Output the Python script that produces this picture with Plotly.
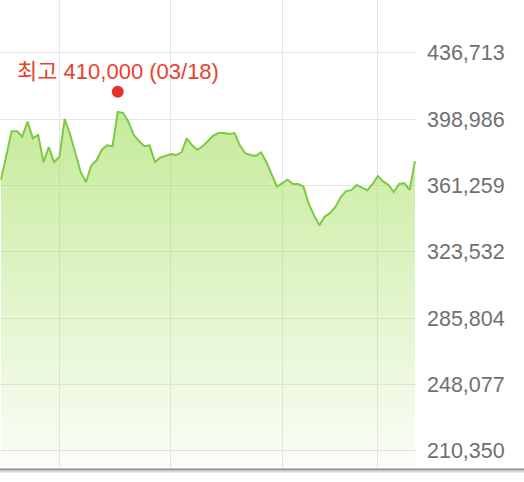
import pandas as pd
import plotly.graph_objects as go

# trading days (KRX calendar, Feb-Jun 2022)
holidays = ["2022-03-01", "2022-03-09", "2022-05-05", "2022-06-01"]
days = pd.bdate_range("2022-02-14", periods=79, freq="C", holidays=holidays)
dates = [d.strftime("%m/%d") for d in days]

# closing prices
closes = [
    364500, 378500, 392000, 392000, 389000, 397500, 388000, 390000, 374500, 383000,
    374500, 377500, 399000, 390500, 380000, 369000, 363000, 372500, 375500, 381500,
    384000, 383500, 403000, 402500, 397500, 390000, 386500, 383500, 384000, 374500,
    377000, 378000, 379000, 378500, 380000, 388000, 384000, 381500, 383500, 386500,
    389500, 391000, 391000, 390500, 391000, 384000, 379500, 378500, 378000, 380000,
    374500, 367500, 360500, 362500, 364500, 362000, 362000, 360500, 350500, 344000,
    338500, 343500, 345500, 349000, 354500, 358000, 358500, 361500, 360000, 358500,
    362000, 366500, 363500, 361500, 357500, 362000, 362500, 358500, 375000,
]

high_value = 410000
high_date = "03/18"

y_ticks = [210350, 248077, 285804, 323532, 361259, 398986, 436713]
y_labels = ["210,350", "248,077", "285,804", "323,532", "361,259", "398,986", "436,713"]
grid_dates = ["03/02", "04/01", "05/02", "05/27"]

y_lo, y_hi = 200512, 466663
font_fam = "Liberation Sans, Arial, Noto Sans CJK KR, sans-serif"

fig = go.Figure()
fig.add_trace(go.Scatter(
    x=dates, y=closes, mode="lines",
    line=dict(color="#7cca44", width=2),
    fill="tozeroy",
    fillgradient=dict(
        type="vertical",
        start=y_lo, stop=max(closes),
        colorscale=[[0, "rgba(150,218,70,0.04)"], [1, "rgba(150,218,70,0.55)"]],
    ),
    hoverinfo="skip",
    showlegend=False,
))

# red dot + label for the period high
fig.add_shape(
    type="circle", xref="x", yref="y",
    xsizemode="pixel", ysizemode="pixel",
    xanchor=high_date, yanchor=high_value,
    x0=-6, x1=6, y0=2, y1=14,
    fillcolor="#e5322b", line=dict(width=0),
)
fig.add_annotation(
    x=high_date, y=high_value, yshift=28,
    text=f"최고 {high_value:,} ({high_date})",
    showarrow=False, xanchor="center", yanchor="middle",
    font=dict(family=font_fam, size=22, color="#e8412f"),
)

# bottom axis bar across the whole width
fig.add_shape(type="line", xref="paper", yref="paper",
              x0=0, x1=524 / 416, y0=-0.0032, y1=-0.0032,
              line=dict(color="#8c8c8c", width=2))
fig.add_shape(type="line", xref="paper", yref="paper",
              x0=0, x1=524 / 416, y0=-0.0075, y1=-0.0075,
              line=dict(color="#d6d6d6", width=2))

fig.update_xaxes(
    type="category",
    range=[-0.19, len(dates) - 1 + 0.19],
    tickvals=grid_dates, showticklabels=False, ticks="",
    showgrid=True, gridcolor="#e6e6e6", gridwidth=1,
    zeroline=False, showline=False,
)
fig.update_yaxes(
    side="right", range=[y_lo, y_hi],
    tickvals=y_ticks, ticktext=y_labels, ticks="",
    ticklabelstandoff=10,
    showgrid=True, gridcolor="#e6e6e6", gridwidth=1,
    zeroline=False, showline=False,
    tickfont=dict(family=font_fam, size=21.5, color="#707070"),
)
fig.update_layout(
    width=524, height=482,
    margin=dict(l=0, r=108, t=0, b=14),
    plot_bgcolor="white", paper_bgcolor="white",
)

fig.write_html("out.html", config={"displayModeBar": False},
               post_script="document.body.style.margin='0px';")
